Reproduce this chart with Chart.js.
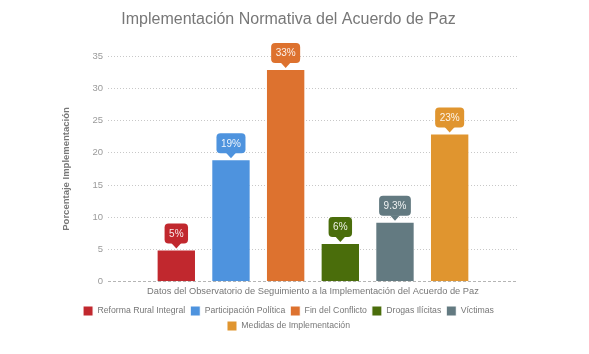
<!DOCTYPE html>
<html>
<head>
<meta charset="utf-8">
<script src="https://cdn.jsdelivr.net/npm/chart.js@4"></script>
<style>
  html, body { margin:0; padding:0; background:#fff; }
  #wrap { width:589px; height:354px; }
</style>
</head>
<body>
<div id="wrap"><canvas id="c" width="589" height="354"></canvas></div>
<script>
// data
const categories = ['Datos del Observatorio de Seguimiento a la Implementación del Acuerdo de Paz'];
const seriesNames = ['Reforma Rural Integral', 'Participación Política', 'Fin del Conflicto', 'Drogas Ilícitas', 'Víctimas', 'Medidas de Implementación'];
const seriesValues = [5, 19, 33, 6, 9.3, 23];
const seriesColors = ['#C1282E', '#4E93DE', '#DD722F', '#4A6D0B', '#637A81', '#E0952F'];
const yTicks = [0, 5, 10, 15, 20, 25, 30, 35];

const FONT = '"Liberation Sans", Arial, sans-serif';

function roundRect(ctx, x, y, w, h, r){
  ctx.beginPath();
  ctx.moveTo(x + r, y);
  ctx.lineTo(x + w - r, y);
  ctx.quadraticCurveTo(x + w, y, x + w, y + r);
  ctx.lineTo(x + w, y + h - r);
  ctx.quadraticCurveTo(x + w, y + h, x + w - r, y + h);
  ctx.lineTo(x + r, y + h);
  ctx.quadraticCurveTo(x, y + h, x, y + h - r);
  ctx.lineTo(x, y + r);
  ctx.quadraticCurveTo(x, y, x + r, y);
  ctx.closePath();
}

// callout labels above the bars
const calloutPlugin = {
  id: 'callouts',
  afterDatasetsDraw(chart){
    const ctx = chart.ctx;
    ctx.save();
    ctx.font = '10px ' + FONT;
    ctx.textAlign = 'center';
    ctx.textBaseline = 'middle';
    chart.data.datasets.forEach((ds, i) => {
      const meta = chart.getDatasetMeta(i);
      meta.data.forEach((bar, j) => {
        const txt = ds.data[j] + '%';
        const w = ctx.measureText(txt).width + 9;
        const h = 20;
        const tip = bar.y - 1;
        const bottom = tip - 5;
        const x = bar.x - w / 2;
        ctx.fillStyle = ds.backgroundColor;
        roundRect(ctx, x, bottom - h, w, h, 4);
        ctx.fill();
        ctx.beginPath();
        ctx.moveTo(bar.x - 5, bottom - 0.5);
        ctx.lineTo(bar.x + 5, bottom - 0.5);
        ctx.lineTo(bar.x, tip);
        ctx.closePath();
        ctx.fill();
        ctx.fillStyle = 'rgba(255,255,255,0.9)';
        ctx.fillText(txt, bar.x, bottom - h / 2 + 0.5);
      });
    });
    ctx.restore();
  }
};

const datasets = seriesNames.map((name, i) => ({
  label: name,
  data: [seriesValues[i]],
  backgroundColor: seriesColors[i],
  borderColor: '#ffffff',
  borderWidth: 1,
  categoryPercentage: 0.8,
  barPercentage: 0.72
}));

new Chart(document.getElementById('c').getContext('2d'), {
  type: 'bar',
  data: { labels: categories, datasets },
  plugins: [calloutPlugin],
  options: {
    responsive: false,
    animation: false,
    layout: { padding: { left: 59, right: 71, top: 10, bottom: 13 } },
    plugins: {
      title: {
        display: true,
        text: 'Implementación Normativa del Acuerdo de Paz',
        color: '#777777',
        font: { family: FONT, size: 16, weight: 'normal' },
        padding: { top: 0, bottom: 27 }
      },
      legend: {
        position: 'bottom',
        labels: {
          boxWidth: 10,
          boxHeight: 10,
          padding: 5,
          color: '#777777',
          font: { family: FONT, size: 8.7 }
        }
      },
      tooltip: { enabled: false }
    },
    scales: {
      x: {
        grid: { display: false, drawTicks: false },
        border: { display: false },
        ticks: {
          color: '#777777',
          padding: 5,
          font: { family: FONT, size: 9.3, lineHeight: 1.0 }
        }
      },
      y: {
        min: 0,
        max: 35,
        afterBuildTicks(axis){ axis.ticks = yTicks.map(v => ({ value: v })); },
        border: {
          display: false,
          dash: ctx => ctx.tick && ctx.tick.value === 0 ? [3, 2] : [1, 2]
        },
        grid: {
          color: ctx => ctx.tick && ctx.tick.value === 0 ? '#b5b5b5' : '#c8c8c8',
          lineWidth: 1,
          drawTicks: false
        },
        ticks: {
          color: '#9a9a9a',
          padding: 5,
          font: { family: FONT, size: 9.5 }
        },
        title: {
          display: true,
          text: 'Porcentaje Implementación',
          color: '#777777',
          padding: { top: 2, bottom: 15 },
          font: { family: FONT, size: 9.5, weight: 'bold' }
        }
      }
    }
  }
});
</script>
</body>
</html>
